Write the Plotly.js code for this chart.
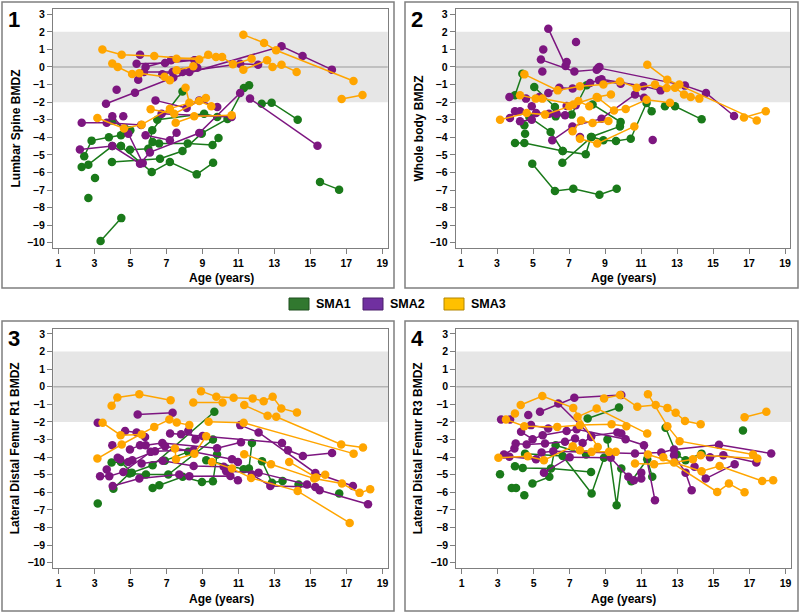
<!DOCTYPE html>
<html>
<head>
<meta charset="utf-8">
<script src="https://cdn.plot.ly/plotly-3.0.1.min.js"></script>
<style>html,body{margin:0;padding:0;background:#fff;}#chart{width:800px;height:614px;}</style>
</head>
<body>
<div id="chart"></div>
<script>
// ---------- DATA (age in years, BMD Z-score); each inner list = one patient ----------
const groups = ["SMA1", "SMA2", "SMA3"];
const panelTitles = ["Lumbar Spine BMDZ", "Whole body BMDZ", "Lateral Distal Femur R1 BMDZ", "Lateral Distal Femur R3 BMDZ"];
const panelLabels = ["1", "2", "3", "4"];
const xTickVals = [1, 3, 5, 7, 9, 11, 13, 15, 17, 19];
const yTickVals = [-10, -9, -8, -7, -6, -5, -4, -3, -2, -1, 0, 1, 2, 3];

const p1_sma1 = [
  [[3.35,-9.9],[4.5,-8.6]], [[2.67,-7.45]], [[3.04,-6.32]],
  [[2.3,-5.69],[2.67,-5.56],[4.0,-4.5],[4.48,-4.5]],
  [[2.44,-5.08],[2.85,-4.19],[3.81,-4.0],[4.48,-3.89],[5.0,-3.6]],
  [[4.0,-3.04],[4.7,-3.5]],
  [[3.98,-5.41],[6.65,-5.22],[7.9,-4.78],[8.96,-3.78]],
  [[4.98,-4.71],[6.0,-4.65],[6.22,-3.6],[7.9,-1.39]],
  [[4.48,-4.5],[6.19,-5.98],[7.2,-5.41],[8.69,-6.11],[9.6,-5.45]],
  [[6.24,-4.27],[6.6,-4.36],[8.19,-4.36],[9.57,-4.44],[9.9,-4.04]],
  [[6.5,-3.0],[9.1,-2.66],[9.83,-2.85]],
  [[8.96,-3.78],[10.4,-2.96],[11.31,-1.2],[11.6,-1.04]],
  [[12.3,-2.09],[12.85,-2.03],[14.3,-3.0]],
  [[15.54,-6.55],[16.6,-6.98]]
];
const p1_sma2 = [
  [[5.54,0.7]],
  [[5.35,0.19],[6.93,0.23],[8.56,0.38],[8.72,-0.04]],
  [[5.85,0.0],[7.26,0.38],[8.6,0.38]],
  [[5.44,-0.72],[5.76,-0.28],[7.9,-0.28],[11.1,0.19],[12.1,0.13]],
  [[6.78,-0.42],[7.35,-0.28],[8.28,-0.28]],
  [[3.65,-2.09],[5.26,-1.46],[7.39,-0.6],[13.4,1.18],[14.57,0.63],[16.2,-0.15]],
  [[4.24,-1.29]],
  [[6.4,-1.9],[8.13,-2.33],[8.83,-1.9],[9.83,-2.28]],
  [[2.3,-3.17],[3.69,-3.17],[5.6,-3.3]],
  [[2.2,-4.69],[4.0,-4.5],[5.54,-5.5],[6.09,-4.86],[8.83,-3.76],[11.1,-1.48]],
  [[4.0,-2.8],[4.89,-3.8],[5.69,-5.47]],
  [[4.61,-2.8]],
  [[5.85,-3.89],[7.2,-4.17],[7.57,-3.74]],
  [[6.74,-2.66],[10.63,-2.85]],
  [[11.65,-1.8],[15.4,-4.48]]
];
const p1_sma3 = [
  [[3.45,1.0],[4.52,0.7],[6.33,0.63],[8.83,0.42],[9.33,0.7]],
  [[4.0,0.2],[4.3,0.0],[5.1,-0.4],[5.5,-0.35],[6.9,-0.55],[7.2,-0.75]],
  [[7.57,0.47],[9.76,0.57],[10.1,0.57],[10.7,0.15],[11.74,0.47]],
  [[7.57,-0.19],[8.5,0.04]],
  [[11.28,1.84],[12.43,1.37],[13.1,0.95],[17.4,-0.8]],
  [[16.74,-1.82],[17.9,-1.6]],
  [[11.28,-0.15],[12.6,0.38],[12.9,0.0],[13.4,0.13],[14.24,-0.28]],
  [[3.17,-2.9],[4.65,-3.5],[5.63,-3.28],[7.2,-2.37],[9.2,-1.77]],
  [[6.13,-2.4],[7.44,-2.66],[8.83,-1.94],[9.5,-2.24]],
  [[7.52,-3.17],[8.55,-2.8],[10.63,-2.75]],
  [[8.07,-1.18],[8.28,-2.03]]
];

const p2_sma1 = [
  [[4.0,-1.61],[4.41,-0.38]],
  [[5.07,-1.14],[6.22,-2.28]],
  [[6.26,-2.81],[7.15,-2.71],[7.98,-1.04]],
  [[4.8,-2.85],[5.98,-3.7],[6.65,-4.78]],
  [[4.52,-3.32]], [[4.56,-3.8]],
  [[4.0,-4.33],[4.52,-4.33],[6.65,-4.78],[7.93,-4.97],[8.22,-3.98],[9.83,-3.38]],
  [[4.96,-5.5],[6.22,-7.06],[7.24,-6.93],[8.69,-7.27],[9.65,-6.93]],
  [[6.63,-5.45],[8.26,-3.98],[8.91,-4.17],[9.61,-4.21],[10.43,-4.08],[11.31,-2.05],[11.59,-2.52]],
  [[8.31,-2.13],[9.87,-3.13]],
  [[12.33,-2.24],[12.89,-2.24],[14.37,-2.98]]
];
const p2_sma2 = [
  [[5.85,2.18],[6.81,0.06],[6.87,0.28]],
  [[7.39,1.42]], [[5.57,1.0]],
  [[5.44,0.42],[7.3,-0.25],[8.54,-0.15],[8.69,0.0]],
  [[5.52,-0.25]],
  [[5.85,-1.48],[6.46,-1.18],[7.2,-1.23],[8.17,-0.91],[8.67,-0.76],[9.87,-0.95]],
  [[3.69,-1.71]],
  [[3.72,-2.9],[4.0,-2.52],[4.28,-2.52]],
  [[4.61,-1.8]], [[5.35,-1.71]],
  [[4.28,-3.09],[4.93,-3.0]],
  [[4.93,-2.24]],
  [[5.17,-2.62],[5.89,-2.66],[6.31,-2.66],[6.78,-2.75]],
  [[6.07,-4.17],[7.19,-3.38],[8.81,-2.94],[10.67,-1.56],[11.17,-1.75]],
  [[6.87,-2.22],[7.37,-2.18]],
  [[7.61,-3.98]],
  [[8.81,-0.7],[11.13,-1.1],[12.09,-1.33]],
  [[8.63,-0.05],[13.44,-1.06],[14.61,-1.48],[16.17,-2.79]],
  [[11.65,-4.15]]
];
const p2_sma3 = [
  [[3.17,-3.0],[4.65,-2.62],[5.67,-2.71],[7.02,-2.24],[7.52,-1.94],[8.13,-2.24]],
  [[4.28,-1.61],[5.15,-1.8],[5.52,-1.8],[7.24,-2.13],[8.54,-1.71],[9.33,-1.56]],
  [[4.52,-0.42],[6.37,-1.33],[7.61,-1.1],[8.91,-0.99],[9.83,-0.82],[10.76,-1.18],[11.78,-1.0],[12.43,-1.2],[13.13,-1.0]],
  [[7.2,-3.66],[7.67,-3.04],[8.31,-3.19],[9.19,-3.07]],
  [[7.61,-4.08],[8.57,-4.36],[10.63,-3.38]],
  [[8.6,-1.75],[9.5,-2.47],[10.15,-2.39],[11.31,-1.86],[12.61,-2.03]],
  [[11.35,0.13],[12.46,-0.72],[17.43,-3.04]],
  [[16.72,-2.87],[17.93,-2.52]],
  [[12.89,-1.18],[13.39,-1.57],[13.76,-1.71],[14.24,-1.8]]
];

const p3_sma1 = [
  [[3.17,-6.64]],
  [[3.94,-4.31],[4.46,-4.27],[5.06,-4.88],[6.22,-4.46],[9.65,-1.42]],
  [[4.04,-5.79],[4.93,-4.93],[5.85,-4.99],[7.09,-4.99],[9.57,-3.0]],
  [[6.22,-5.75],[6.59,-5.6],[7.89,-5.12],[8.96,-5.41],[9.57,-5.37],[9.8,-3.85]],
  [[6.9,-4.2],[8.2,-3.7]],
  [[9.2,-4.17],[11.28,-4.69],[11.57,-4.65],[11.74,-3.19]],
  [[12.3,-4.23],[12.85,-5.45],[13.44,-5.35]],
  [[14.33,-5.56]], [[16.59,-6.07]]
];
const p3_sma2 = [
  [[3.17,-2.05]],
  [[5.39,-1.57],[7.33,-1.48]],
  [[4.69,-2.52],[5.33,-2.6],[5.8,-2.85]],
  [[7.19,-2.66],[7.8,-2.7],[13.41,-3.19],[13.74,-3.61],[14.57,-3.93],[16.19,-3.76]],
  [[11.09,-2.18],[12.11,-2.6],[15.26,-4.9],[17.35,-5.64]],
  [[3.98,-3.32]],
  [[4.96,-3.57],[5.52,-3.32],[5.83,-3.32],[6.76,-3.19],[9.8,-3.5],[11.13,-3.15]],
  [[4.28,-4.04],[4.41,-4.12],[4.87,-4.27],[5.09,-4.17],[6.35,-3.66],[8.5,-3.6]],
  [[3.3,-5.09],[3.81,-5.09],[4.59,-4.84],[6.11,-3.7],[6.91,-3.38],[10.63,-4.12],[10.96,-4.27]],
  [[3.67,-4.7]],
  [[4.0,-5.64],[5.48,-5.22],[7.7,-4.99],[8.26,-5.09],[10.54,-5.07],[10.96,-5.31]],
  [[5.61,-4.36],[6.78,-4.21],[8.5,-4.5],[10.17,-4.55],[10.31,-4.8],[12.11,-4.88],[14.8,-5.56]],
  [[11.74,-4.99],[12.76,-5.64],[15.26,-5.69],[15.5,-5.88],[18.19,-6.68]],
  [[8.2,-2.5],[8.6,-3.0],[9.0,-2.8]]
];
const p3_sma3 = [
  [[3.94,-1.08],[4.26,-0.61],[5.48,-0.42],[7.22,-0.76]],
  [[8.91,-0.25],[9.76,-0.57],[10.72,-0.63],[11.78,-0.66],[12.39,-0.82],[12.89,-0.57],[13.37,-1.23],[14.24,-1.46]],
  [[8.48,-0.89],[10.11,-0.89]],
  [[11.31,-1.04],[12.61,-1.65],[13.09,-1.71],[16.7,-3.28],[17.91,-3.45]],
  [[9.33,-1.99],[11.28,-2.05],[17.39,-3.8]],
  [[3.44,-2.05],[4.44,-2.75],[5.61,-2.71]],
  [[3.15,-4.08],[4.5,-3.28],[6.31,-2.28],[7.15,-1.86],[7.56,-2.03],[8.26,-2.18]],
  [[7.46,-3.51],[7.52,-4.12],[8.54,-3.8],[9.2,-2.81]],
  [[9.52,-4.27],[10.63,-4.65],[11.69,-5.18],[14.28,-5.93],[17.17,-7.74]],
  [[11.31,-3.83],[12.8,-4.4],[15.2,-5.22],[16.74,-5.5],[17.72,-6.03],[18.31,-5.83]],
  [[13.81,-4.27],[15.3,-5.15],[15.81,-5.0]]
];

const p4_sma1 = [
  [[3.13,-4.97]],
  [[3.78,-5.75],[4.02,-5.75]],
  [[4.48,-6.17]],
  [[3.96,-4.52],[4.39,-4.61],[5.96,-4.65],[8.19,-4.84]],
  [[4.93,-5.5],[5.87,-5.12],[6.22,-3.32],[7.91,-3.85]],
  [[4.52,-3.8],[6.61,-3.93],[8.22,-6.07],[8.91,-4.04]],
  [[8.0,-1.8],[9.74,-1.18]],
  [[9.1,-3.0],[9.61,-6.74],[9.87,-4.65]],
  [[10.43,-5.37],[11.31,-4.12],[11.59,-5.12]],
  [[12.33,-2.33],[12.95,-3.85],[13.44,-4.17],[14.33,-3.8]],
  [[16.63,-2.49]]
];
const p4_sma2 = [
  [[3.19,-1.86],[3.69,-1.86]],
  [[4.7,-1.61]],
  [[4.85,-2.18],[5.81,-2.37]],
  [[5.35,-1.42],[7.26,-0.63],[9.87,-0.47]],
  [[6.37,-0.95],[8.2,-2.8],[9.65,-2.6],[9.87,-2.66]],
  [[4.3,-2.56],[4.94,-2.98],[5.5,-2.75],[6.83,-2.52],[7.39,-2.41],[10.11,-2.98],[11.13,-3.32],[11.74,-6.45]],
  [[3.35,-3.85],[3.93,-3.51],[4.0,-3.23],[4.61,-3.28],[5.63,-3.23],[6.74,-3.13],[7.3,-2.94],[7.72,-3.19],[8.19,-2.85]],
  [[3.65,-3.98],[5.13,-4.12],[5.44,-3.74],[6.09,-3.66],[10.63,-3.79],[12.09,-3.74],[12.8,-3.57],[15.3,-3.3],[18.2,-3.79]],
  [[5.57,-4.88],[7.0,-4.0],[9.28,-4.04],[10.26,-5.12],[10.57,-5.31],[10.98,-5.22],[10.98,-4.88]],
  [[12.8,-3.89],[13.44,-4.88],[13.78,-5.88]],
  [[13.94,-4.55],[14.56,-5.22],[16.17,-4.4]],
  [[14.8,-4.0],[15.54,-3.89],[17.37,-4.31]]
];
const p4_sma3 = [
  [[3.46,-1.86],[4.48,-2.24],[6.31,-2.28],[7.57,-2.18],[9.33,-2.13],[10.15,-2.24]],
  [[3.96,-1.52]],
  [[4.28,-1.04],[5.48,-0.53],[7.2,-1.2],[8.56,-3.42]],
  [[3.04,-4.04],[4.67,-3.95],[5.57,-4.17],[7.17,-3.38],[7.57,-3.61],[8.22,-3.7],[9.19,-3.7],[9.56,-3.7]],
  [[7.44,-1.71],[8.5,-1.23],[11.31,-2.66]],
  [[8.91,-0.66],[9.8,-0.47],[10.76,-1.14],[11.78,-1.04],[12.43,-1.2],[12.89,-1.48],[13.41,-1.95],[14.28,-2.13]],
  [[11.35,-0.42],[12.43,-2.24],[13.11,-3.09],[17.19,-3.85]],
  [[10.63,-4.36],[11.69,-4.4],[12.8,-4.31],[13.85,-4.12],[14.28,-3.89],[17.43,-4.08]],
  [[11.35,-3.85],[14.33,-4.8],[15.33,-4.5],[17.7,-5.35],[18.31,-5.31]],
  [[12.2,-4.0],[15.2,-5.98],[15.85,-5.5],[16.72,-6.0]],
  [[16.72,-1.73],[17.93,-1.42]]
];

// ---------- STYLE ----------
const lineColors = ["#1a7a1a", "#7d1680", "#ffa500"];
const legendColors = ["#31782f", "#7030a0", "#ffc000"];
const legendBorders = ["#1f4f1e", "#4b1f6b", "#b38600"];
const FONT = "Liberation Sans, Arial, sans-serif";

const panels = [
  [p1_sma1, p1_sma2, p1_sma3],
  [p2_sma1, p2_sma2, p2_sma3],
  [p3_sma1, p3_sma2, p3_sma3],
  [p4_sma1, p4_sma2, p4_sma3]
];

const W = 800, H = 614;
const px = v => v / W;
const py = v => 1 - v / H;

// plot-area pixel boxes [left, right, top, bottom]
const boxes = [
  [52.9, 387.7, 9.0, 248.0],
  [455.6, 790.4, 9.0, 248.0],
  [53.3, 388.0, 328.7, 568.0],
  [456.3, 791.0, 328.7, 568.0]
];
// outer panel frames
const frames = [
  [2, 394, 2, 288],
  [405, 798, 2, 288],
  [2, 394, 321, 611],
  [405, 798, 321, 611]
];

function build(lines) {
  const x = [], y = [];
  lines.forEach((ln, i) => {
    if (i > 0) { x.push(null); y.push(null); }
    ln.forEach(p => { x.push(p[0]); y.push(p[1]); });
  });
  return {x, y};
}

const traces = [];
const layout = {
  width: W, height: H,
  margin: {l: 0, r: 0, t: 0, b: 0},
  paper_bgcolor: "#ffffff",
  plot_bgcolor: "rgba(0,0,0,0)",
  showlegend: false,
  font: {family: FONT, color: "#000"},
  shapes: [],
  annotations: []
};

panels.forEach((pan, k) => {
  const s = k === 0 ? "" : String(k + 1);
  const xa = "x" + s, ya = "y" + s;
  pan.forEach((lines, g) => {
    const d = build(lines);
    traces.push({
      type: "scatter", mode: "lines+markers",
      x: d.x, y: d.y, xaxis: xa, yaxis: ya,
      name: groups[g],
      line: {color: lineColors[g], width: 1.5},
      marker: {color: lineColors[g], size: 8.5},
      connectgaps: false, hoverinfo: "skip"
    });
  });
  const b = boxes[k];
  const axCommon = {
    showline: true, mirror: true, linecolor: "#7f7f7f", linewidth: 1,
    ticks: "outside", ticklen: 5, tickcolor: "#7f7f7f", tickwidth: 1,
    showgrid: false, zeroline: false, fixedrange: true,
    tickfont: {family: FONT, size: 10.5, weight: "bold", color: "#000"}
  };
  layout["xaxis" + s] = Object.assign({}, axCommon, {
    domain: [px(b[0]), px(b[1])], range: [0.7, 19.3],
    tickmode: "array", tickvals: xTickVals, anchor: ya
  });
  layout["yaxis" + s] = Object.assign({}, axCommon, {
    domain: [py(b[3]), py(b[2])], range: [-10.3, 3.3],
    tickmode: "array", tickvals: yTickVals, anchor: xa
  });
  // reference band and zero line
  layout.shapes.push({type: "rect", xref: xa + " domain", yref: ya, x0: 0, x1: 1, y0: -2, y1: 2,
    fillcolor: "#e6e6e6", line: {width: 0}, layer: "below"});
  layout.shapes.push({type: "line", xref: xa + " domain", yref: ya, x0: 0, x1: 1, y0: 0, y1: 0,
    line: {color: "#b3b3b3", width: 1.5}, layer: "below"});
  // outer frame
  const f = frames[k];
  layout.shapes.push({type: "rect", xref: "paper", yref: "paper",
    x0: px(f[0]), x1: px(f[1]), y0: py(f[3]), y1: py(f[2]),
    line: {color: "#7f7f7f", width: 1.5}, fillcolor: "rgba(0,0,0,0)"});
  // panel number
  layout.annotations.push({xref: "paper", yref: "paper", x: px(f[0] + 12), y: py(f[2] + 17),
    text: panelLabels[k], showarrow: false, xanchor: "center", yanchor: "middle",
    font: {family: FONT, size: 22, weight: "bold", color: "#000"}});
  // y title
  const yTitleX = k % 2 === 0 ? 15 : 418;
  layout.annotations.push({xref: "paper", yref: "paper", x: px(yTitleX), y: py((b[2] + b[3]) / 2),
    text: panelTitles[k], textangle: -90, showarrow: false, xanchor: "center", yanchor: "middle",
    font: {family: FONT, size: 12, weight: "bold", color: "#000"}});
  // x title
  layout.annotations.push({xref: "paper", yref: "paper", x: px(k % 2 === 0 ? 221 : 623), y: py(k < 2 ? 278 : 599),
    text: "Age (years)", showarrow: false, xanchor: "center", yanchor: "middle",
    font: {family: FONT, size: 12, weight: "bold", color: "#000"}});
});

// legend (swatches + labels)
const legX = [289, 363, 444];
groups.forEach((g, i) => {
  layout.shapes.push({type: "rect", xref: "paper", yref: "paper",
    x0: px(legX[i]), x1: px(legX[i] + 20), y0: py(310), y1: py(298),
    fillcolor: legendColors[i], line: {color: legendBorders[i], width: 1}});
  layout.annotations.push({xref: "paper", yref: "paper", x: px(legX[i] + 25), y: py(304),
    text: g, showarrow: false, xanchor: "left", yanchor: "middle",
    font: {family: FONT, size: 12.5, weight: "bold", color: "#000"}});
});

Plotly.newPlot("chart", traces, layout, {staticPlot: true, displayModeBar: false});
</script>
</body>
</html>
